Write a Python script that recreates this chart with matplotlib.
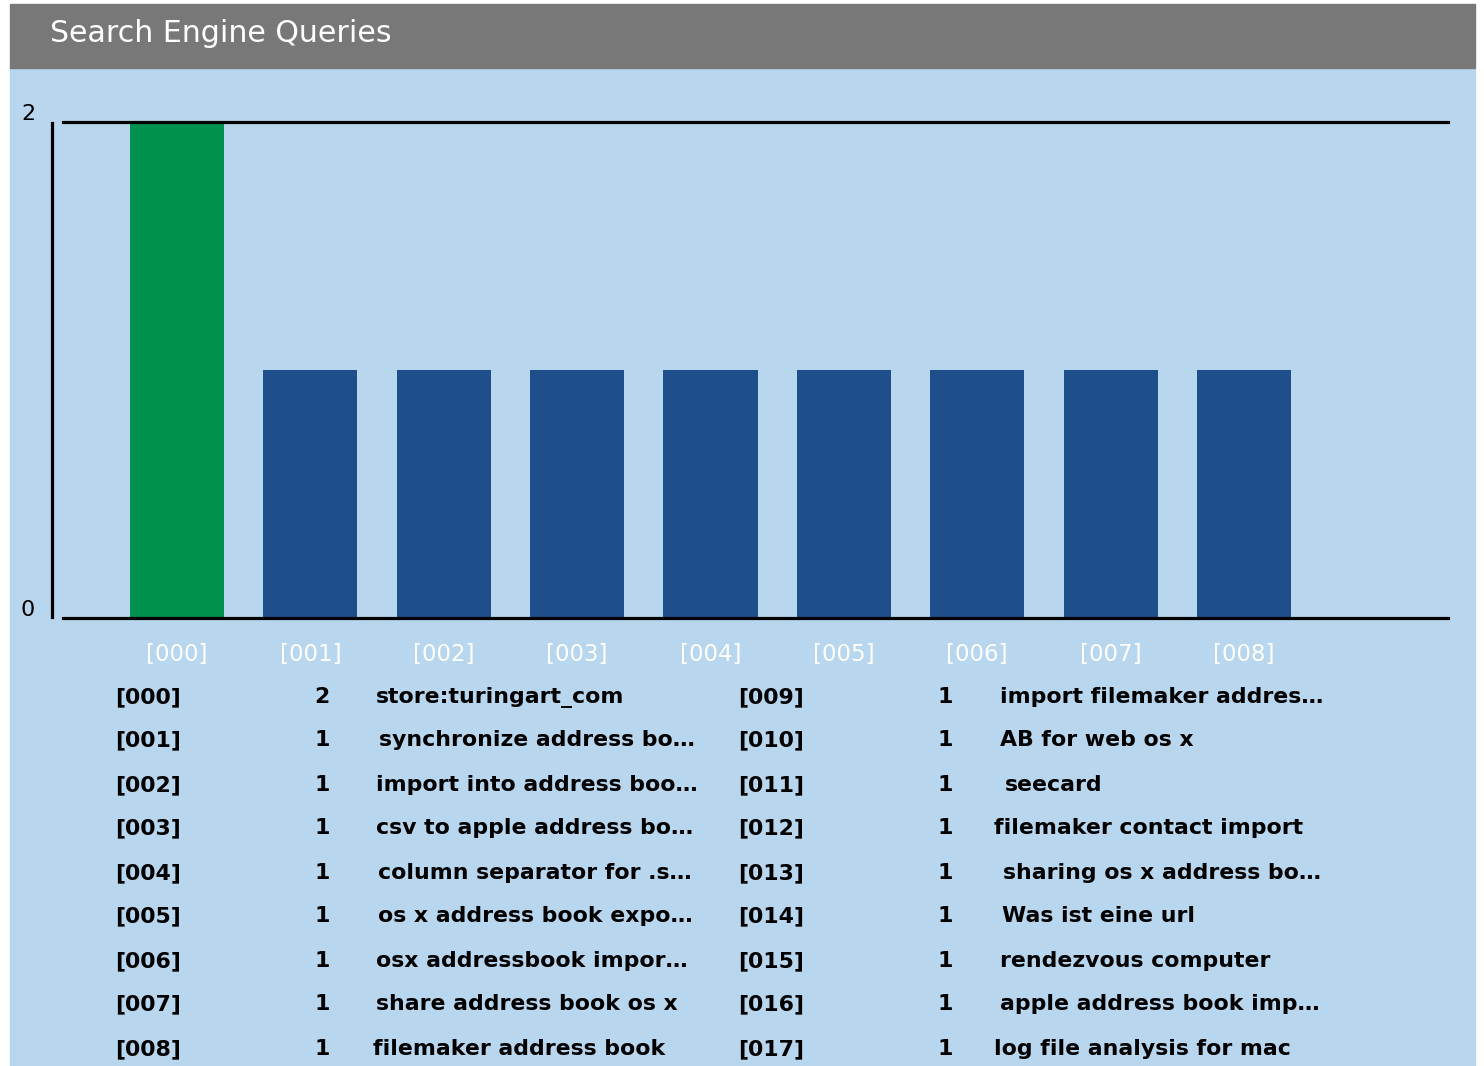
import matplotlib
matplotlib.use("Agg")
import matplotlib.pyplot as plt
from matplotlib.patches import Rectangle
from matplotlib.lines import Line2D

# ---- data ----
keys = ["[%03d]" % i for i in range(18)]
counts = [2, 1, 1, 1, 1, 1, 1, 1, 1, 1, 1, 1, 1, 1, 1, 1, 1, 1]
queries = [
    "store:turingart_com", "synchronize address bo…", "import into address boo…",
    "csv to apple address bo…", "column separator for .s…", "os x address book expo…",
    "osx addressbook impor…", "share address book os x", "filemaker address book",
    "import filemaker addres…", "AB for web os x", "seecard",
    "filemaker contact import", "sharing os x address bo…", "Was ist eine url",
    "rendezvous computer", "apple address book imp…", "log file analysis for mac",
]
n_bars = 9
bar_colors = ["#00914f"] + ["#1f4f8a"] * (n_bars - 1)

# table layout (pixels)
row_y = [697, 740, 785, 828, 873, 916, 961, 1004, 1049]
query_x = [376, 379, 376, 376, 378, 378, 376, 376, 373,
           1000, 1000, 1005, 994, 1003, 1002, 1000, 1000, 994]

W, H = 1484, 1066
fig = plt.figure(figsize=(W / 100, H / 100), dpi=100, facecolor="white")

def fx(x): return x / W
def fy(y): return 1 - y / H

# panel backgrounds
fig.add_artist(Rectangle((fx(10), fy(1066)), fx(1475) - fx(10), fy(68) - fy(1066),
                         transform=fig.transFigure, color="#b8d6ee", zorder=0))
fig.add_artist(Rectangle((fx(10), fy(68)), fx(1475) - fx(10), fy(4) - fy(68),
                         transform=fig.transFigure, color="#787878", zorder=0))
fig.text(fx(50), fy(34), "Search Engine Queries", color="white", fontsize=21.6,
         va="center", ha="left")

# ---- bar chart ----
ax = fig.add_axes([fx(63), fy(618), fx(1448) - fx(63), fy(122) - fy(618)])
ax.patch.set_alpha(0)
x = list(range(n_bars))
ax.bar(x, counts[:n_bars], width=0.705, color=bar_colors, zorder=2)
ax.set_xlim(-0.855, 9.53)
ax.set_ylim(0, 2)
for s in ["left", "right"]:
    ax.spines[s].set_visible(False)
for s in ["top", "bottom"]:
    ax.spines[s].set_linewidth(2.3)
    ax.spines[s].set_zorder(3)
ax.set_xticks(x)
ax.set_xticklabels(keys[:n_bars], color="white", fontsize=16.5)
ax.tick_params(axis="x", length=0, pad=18)
ax.set_yticks([])
for v in [0, 2]:
    ax.annotate(str(v), xy=(0, v), xycoords=("axes fraction", "data"),
                xytext=(-35, 8), textcoords="offset pixels",
                ha="center", va="center", fontsize=16)
fig.add_artist(Line2D([fx(51.5), fx(51.5)], [fy(123), fy(617)],
                      transform=fig.transFigure, color="black", lw=2.3))

# ---- table below ----
for i in range(18):
    col = i // 9
    y = fy(row_y[i % 9])
    x0 = [115, 738][col]
    fig.text(fx(x0), y, keys[i], fontsize=15.8, fontweight="bold", va="center")
    fig.text(fx(x0 + 207), y, str(counts[i]), fontsize=15.8, fontweight="bold",
             va="center", ha="center")
    fig.text(fx(query_x[i]), y, queries[i], fontsize=15.8, fontweight="bold",
             va="center")

fig.savefig("out.png", dpi=100, facecolor="white")
